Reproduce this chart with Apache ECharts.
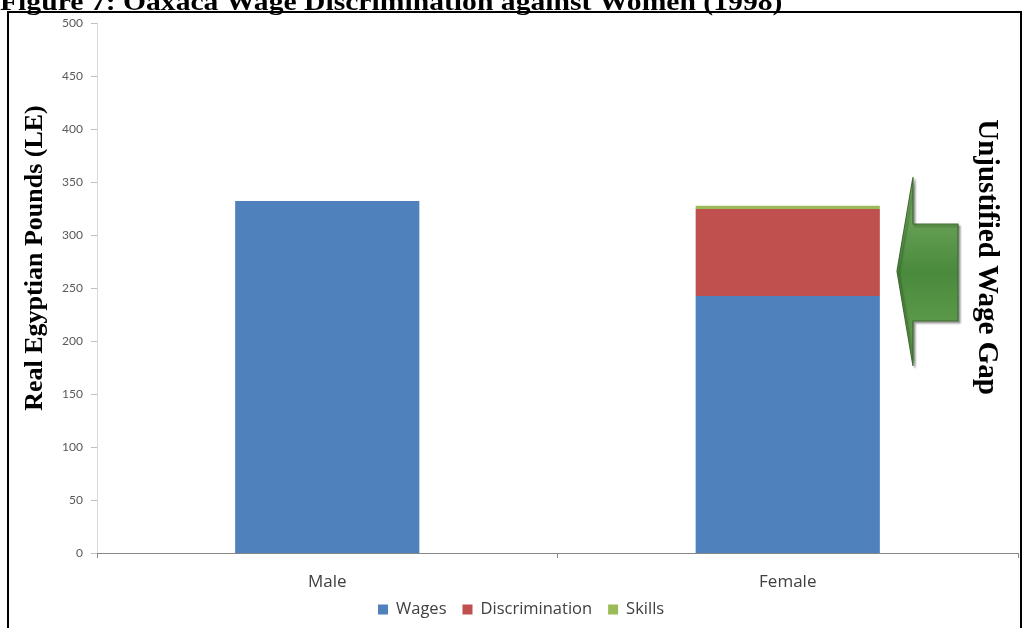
<!DOCTYPE html>
<html>
<head>
<meta charset="utf-8">
<style>
  html, body { margin: 0; padding: 0; background: #fff; }
  #main { width: 1023px; height: 628px; }
</style>
<script src="https://cdn.jsdelivr.net/npm/echarts@6/dist/echarts.min.js"></script>
</head>
<body>
<div id="main"></div>
<script>
const categories = ['Male', 'Female'];
const wages = [332, 242.5];
const discrimination = [0, 82];
const skills = [0, 3];
const yTicks = { min: 0, max: 500, step: 50 };

const serif = '"Liberation Serif", "Times New Roman", serif';
const sans = '"Open Sans", sans-serif';

let chart = echarts.init(document.getElementById('main'));

let arrowFill = new echarts.graphic.LinearGradient(0, 0, 0, 1, [
    { offset: 0, color: '#7fb26a' },
    { offset: 0.5, color: '#4a8a3c' },
    { offset: 1, color: '#6aa455' }
]);

chart.setOption({
    animation: false,
    grid: { left: 97, right: 5, top: 23, bottom: 75 },
    legend: {
        bottom: 5,
        left: 373,
        itemWidth: 10,
        itemHeight: 10,
        itemGap: 16,
        icon: 'rect',
        textStyle: { fontFamily: sans, fontSize: 16.5, color: '#404040', padding: [0, 0, 0, 3] },
        data: ['Wages', 'Discrimination', 'Skills']
    },
    xAxis: {
        type: 'category',
        data: categories,
        axisLine: { lineStyle: { color: '#868686' } },
        axisTick: { show: true, length: 5, lineStyle: { color: '#868686' } },
        axisLabel: { margin: 21, fontFamily: sans, fontSize: 17, color: '#404040' }
    },
    yAxis: {
        type: 'value',
        min: yTicks.min,
        max: yTicks.max,
        interval: yTicks.step,
        splitLine: { show: false },
        axisLine: { show: true, lineStyle: { color: '#d9d9d9' } },
        axisTick: { show: true, length: 6, lineStyle: { color: '#bfbfbf' } },
        axisLabel: { margin: 14, fontFamily: 'Lato, sans-serif', fontSize: 12, color: '#595959' }
    },
    series: [
        { name: 'Wages', type: 'bar', stack: 'w', barWidth: '40%', data: wages,
          itemStyle: { color: '#4F81BD' } },
        { name: 'Discrimination', type: 'bar', stack: 'w', barWidth: '40%', data: discrimination,
          itemStyle: { color: '#C0504D' } },
        { name: 'Skills', type: 'bar', stack: 'w', barWidth: '40%', data: skills,
          itemStyle: { color: '#9BBB59' } }
    ],
    graphic: [
        { type: 'rect', shape: { x: 8, y: 12, width: 1013, height: 630 },
          style: { fill: 'none', stroke: '#000', lineWidth: 2 }, z: 100 },
        { type: 'text', x: 0, y: -10, scaleX: 1.14,
          style: { text: 'Figure 7: Oaxaca Wage Discrimination against Women (1998)',
                   font: 'bold 26px ' + serif, fill: '#000' } },
        { type: 'text', x: 35, y: 258, rotation: Math.PI / 2,
          style: { text: 'Real Egyptian Pounds (LE)', font: 'bold 26px ' + serif,
                   fill: '#000', align: 'center', verticalAlign: 'middle' } },
        { type: 'text', x: 986, y: 257, rotation: -Math.PI / 2,
          style: { text: 'Unjustified Wage Gap', font: 'bold 29px ' + serif,
                   fill: '#000', align: 'center', verticalAlign: 'middle' } },
        { type: 'polygon',
          shape: { points: [[897, 271], [913, 177], [913, 224], [958, 224], [958, 321], [913, 321], [913, 366]] },
          style: { fill: arrowFill, stroke: '#3d6b31', lineWidth: 1.2,
                   shadowColor: 'rgba(0,0,0,0.35)', shadowOffsetX: 2, shadowOffsetY: 2, shadowBlur: 2 } }
    ]
});
</script>
</body>
</html>
